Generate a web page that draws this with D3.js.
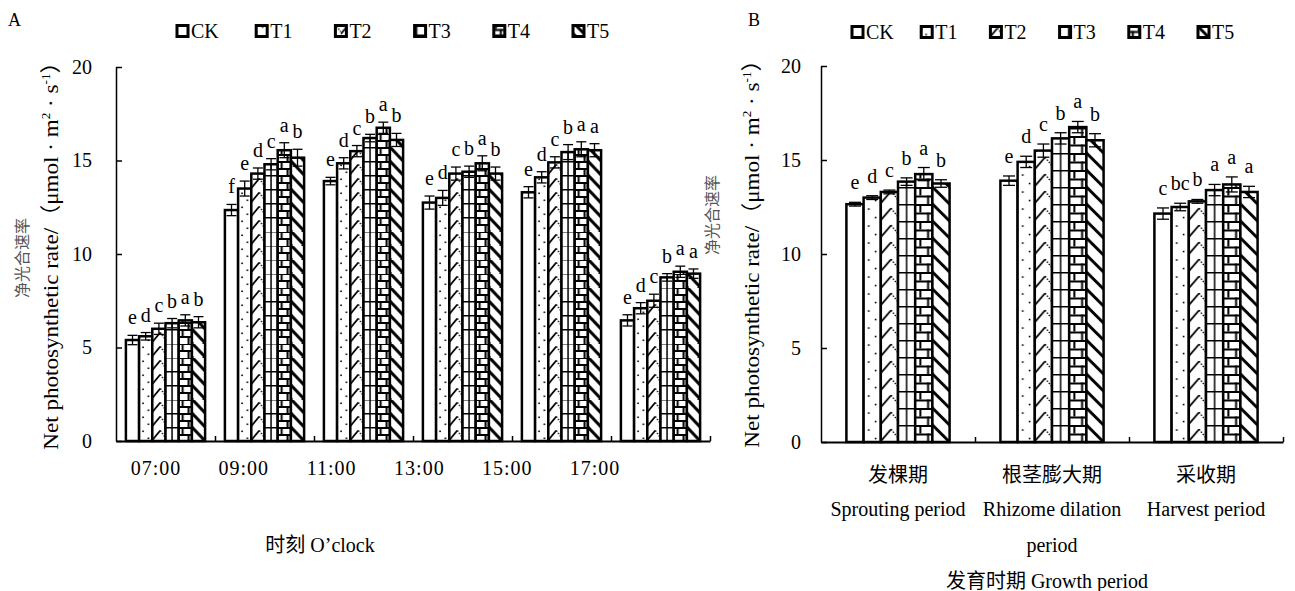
<!DOCTYPE html>
<html>
<head>
<meta charset="utf-8">
<script src="https://cdn.jsdelivr.net/npm/d3@7"></script>
<style>
  body { margin: 0; background: #fff; }
  svg { display: block; }
  text { font-family: "Times New Roman", "Liberation Serif", "Noto Sans CJK SC", serif; fill: #000; }
</style>
</head>
<body>
<svg id="chart" width="1295" height="591"></svg>
<script>
// ---------- data ----------
var series = ['CK', 'T1', 'T2', 'T3', 'T4', 'T5'];

var timesA = ['07:00', '09:00', '11:00', '13:00', '15:00', '17:00'];
var ckA = [5.4, 12.35, 13.9, 12.75, 13.3, 6.45];
var t1A = [5.6, 13.5, 14.85, 13.0, 14.1, 7.1];
var t2A = [6.0, 14.3, 15.5, 14.3, 14.9, 7.5];
var t3A = [6.3, 14.8, 16.2, 14.4, 15.45, 8.75];
var t4A = [6.45, 15.55, 16.75, 14.85, 15.6, 9.05];
var t5A = [6.35, 15.15, 16.1, 14.3, 15.55, 8.95];
var ckErrA = [0.25, 0.3, 0.2, 0.35, 0.3, 0.3];
var t1ErrA = [0.2, 0.4, 0.3, 0.4, 0.3, 0.3];
var t2ErrA = [0.3, 0.3, 0.3, 0.35, 0.3, 0.35];
var t3ErrA = [0.25, 0.3, 0.2, 0.3, 0.4, 0.2];
var t4ErrA = [0.3, 0.4, 0.3, 0.4, 0.4, 0.3];
var t5ErrA = [0.3, 0.45, 0.35, 0.35, 0.35, 0.25];
var lettersA = [
    ['e', 'd', 'c', 'b', 'a', 'b'],
    ['f', 'e', 'd', 'c', 'a', 'b'],
    ['e', 'd', 'c', 'b', 'a', 'b'],
    ['e', 'd', 'c', 'b', 'a', 'b'],
    ['e', 'd', 'c', 'b', 'a', 'a'],
    ['e', 'd', 'c', 'b', 'a', 'a']
];

var periodsCn = ['发棵期', '根茎膨大期', '采收期'];
var periodsEn = [['Sprouting period'], ['Rhizome dilation', 'period'], ['Harvest period']];
var ckB = [12.65, 13.9, 12.15];
var t1B = [13.0, 14.9, 12.5];
var t2B = [13.3, 15.5, 12.8];
var t3B = [13.85, 16.15, 13.4];
var t4B = [14.25, 16.75, 13.7];
var t5B = [13.75, 16.05, 13.3];
var ckErrB = [0.1, 0.25, 0.3];
var t1ErrB = [0.1, 0.3, 0.2];
var t2ErrB = [0.1, 0.35, 0.1];
var t3ErrB = [0.2, 0.3, 0.3];
var t4ErrB = [0.35, 0.3, 0.4];
var t5ErrB = [0.2, 0.35, 0.3];
var lettersB = [
    ['e', 'd', 'c', 'b', 'a', 'b'],
    ['e', 'd', 'c', 'b', 'a', 'b'],
    ['c', 'bc', 'b', 'a', 'a', 'a']
];

var yTicks = [0, 5, 10, 15, 20];

//----------HELPERS----------

var svg = d3.select('#chart');
var defs = svg.append('defs');

// one pattern tile per bar so the hatching lines up with the bar edges
function makePattern(id, kind, x0, y0, bw, h) {
    var p = defs.append('pattern')
        .attr('id', id)
        .attr('patternUnits', 'userSpaceOnUse')
        .attr('x', x0).attr('y', y0)
        .attr('width', bw).attr('height', h);
    p.append('rect').attr('width', bw).attr('height', h).attr('fill', '#fff');
    var g = p.append('g').attr('stroke', '#000').attr('fill', 'none');
    if (kind === 'T1') {
        p.append('rect').attr('x', bw * 0.3 - 0.8).attr('y', h * 0.25).attr('width', 1.6).attr('height', 1.6).attr('fill', '#000');
        p.append('rect').attr('x', bw * 0.7 - 0.8).attr('y', h * 0.75).attr('width', 1.6).attr('height', 1.6).attr('fill', '#000');
    }
    else if (kind === 'T2') {
        g.append('line').attr('x1', 0).attr('y1', h * 0.95).attr('x2', bw * 0.6).attr('y2', h * 0.25).attr('stroke-width', 1.8);
        g.append('line').attr('x1', bw * 0.6).attr('y1', h * 0.25).attr('x2', bw).attr('y2', h * 0.75)
            .attr('stroke-width', 1.3).attr('stroke-dasharray', '1.5,1.5');
    }
    else if (kind === 'T3') {
        g.append('line').attr('x1', bw / 2).attr('y1', 0).attr('x2', bw / 2).attr('y2', h).attr('stroke-width', 1.5);
        g.append('line').attr('x1', 0).attr('y1', 0.75).attr('x2', bw).attr('y2', 0.75).attr('stroke-width', 1.5);
    }
    else if (kind === 'T4') {
        g.append('line').attr('x1', 0).attr('y1', 1).attr('x2', bw).attr('y2', 1).attr('stroke-width', 2);
        g.append('line').attr('x1', 0).attr('y1', h / 2 + 1).attr('x2', bw).attr('y2', h / 2 + 1).attr('stroke-width', 2);
        g.append('line').attr('x1', bw * 0.3).attr('y1', 0).attr('x2', bw * 0.3).attr('y2', h / 2).attr('stroke-width', 2);
        g.append('line').attr('x1', bw * 0.75).attr('y1', h / 2).attr('x2', bw * 0.75).attr('y2', h).attr('stroke-width', 2);
    }
    else if (kind === 'T5') {
        g.attr('stroke-width', 3);
        g.append('line').attr('x1', -1).attr('y1', -1).attr('x2', bw + 1).attr('y2', h + 1);
        g.append('line').attr('x1', bw - 2).attr('y1', -2).attr('x2', bw + 2).attr('y2', 2);
        g.append('line').attr('x1', -2).attr('y1', h - 2).attr('x2', 2).attr('y2', h + 2);
    }
}

function drawPanel(o) {
    var n = o.groups.length;
    var y = d3.scaleLinear().domain([0, 20]).range([o.y0, o.y1]);
    var x0 = d3.scaleBand().domain(d3.range(n)).range([o.x0, o.x1])
        .paddingInner(o.pad).paddingOuter(o.pad / 2);
    var x1 = d3.scaleBand().domain(series).range([0, x0.bandwidth()]);
    var bw = x1.bandwidth();

    var rows = [];
    for (var g = 0; g < n; g++) {
        for (var s = 0; s < series.length; s++) {
            rows.push({g: g, s: series[s], v: o.values[s][g], e: o.errors[s][g], l: o.letters[g][s]});
        }
    }
    rows.forEach(function(d) {
        d.x = x0(d.g) + x1(d.s);
        d.id = o.name + '-' + d.s + '-' + d.g;
        makePattern(d.id, d.s, d.x, o.y0, bw, o.tile);
    });

    var root = svg.append('g');

    // bars
    root.append('g').selectAll('rect')
        .data(rows)
        .enter().append('rect')
        .attr('x', function(d) {return d.x;})
        .attr('y', function(d) {return y(d.v);})
        .attr('width', bw)
        .attr('height', function(d) {return o.y0 - y(d.v);})
        .attr('fill', function(d) {return 'url(#' + d.id + ')';})
        .attr('stroke', '#000')
        .attr('stroke-width', 2.5);

    // error bars
    var eb = root.append('g').attr('stroke', '#000').attr('stroke-width', 1.3);
    rows.forEach(function(d) {
        var cx = d.x + bw / 2;
        eb.append('line').attr('x1', cx).attr('x2', cx).attr('y1', y(d.v - d.e)).attr('y2', y(d.v + d.e));
        eb.append('line').attr('x1', cx - o.cap / 2).attr('x2', cx + o.cap / 2).attr('y1', y(d.v + d.e)).attr('y2', y(d.v + d.e));
        eb.append('line').attr('x1', cx - o.cap / 2).attr('x2', cx + o.cap / 2).attr('y1', y(d.v - d.e)).attr('y2', y(d.v - d.e));
    });

    // significance letters
    root.append('g').selectAll('text')
        .data(rows)
        .enter().append('text')
        .attr('x', function(d) {return d.x + bw / 2;})
        .attr('y', function(d) {return y(d.v + d.e) - o.letterGap;})
        .attr('text-anchor', 'middle')
        .attr('font-size', 20)
        .text(function(d) {return d.l;});

    // y axis, ticks point inwards
    var yAxis = root.append('g')
        .attr('transform', 'translate(' + o.x0 + ',0)')
        .call(d3.axisLeft(y).tickValues(yTicks).tickSizeInner(-6).tickSizeOuter(0).tickPadding(o.tickPad));
    yAxis.select('.domain').attr('stroke-width', 1.5);
    yAxis.selectAll('.tick line').attr('stroke-width', 1.5);
    yAxis.selectAll('.tick text').attr('font-size', 20).attr('font-family', null);

    // x axis with group boundary ticks pointing up
    var xb = d3.scaleLinear().domain([0, n]).range([o.x0, o.x1]);
    var xAxis = root.append('g')
        .attr('transform', 'translate(0,' + o.y0 + ')')
        .call(d3.axisBottom(xb).tickValues(d3.range(1, n + 1)).tickSizeInner(-5).tickSizeOuter(0).tickFormat(''));
    xAxis.select('.domain').attr('stroke-width', 2);
    xAxis.selectAll('.tick line').attr('stroke-width', 1.5);

    // legend
    var lx = d3.scalePoint().domain(series).range(o.legendRange);
    var lg = root.append('g').selectAll('g')
        .data(series)
        .enter().append('g')
        .attr('transform', function(d) {return 'translate(' + lx(d) + ',' + o.legendY + ')';});
    lg.each(function(d) {
        var pid = o.name + '-legend-' + d;
        makePattern(pid, d, lx(d), o.legendY - 5.5, 11, 11);
        d3.select(this).append('rect')
            .attr('x', 0).attr('y', -5.5).attr('width', 11).attr('height', 11)
            .attr('fill', 'url(#' + pid + ')')
            .attr('stroke', '#000').attr('stroke-width', 3);
    });
    lg.append('text')
        .attr('x', 14).attr('y', 7)
        .attr('font-size', 20)
        .text(function(d) {return d;});

    // y title: english line (stretched a little, like the source) plus smaller grey chinese line
    var yt = root.append('text')
        .attr('transform', 'translate(' + o.yTitleX + ',' + o.yTitleY + ') scale(1,1.1) rotate(-90)')
        .attr('text-anchor', 'middle')
        .attr('font-size', 21);
    yt.append('tspan').text('Net photosynthetic rate/（μmol · m');
    yt.append('tspan').attr('font-size', 12).attr('dy', -8).text('2');
    yt.append('tspan').attr('dy', 8).text(' · s');
    yt.append('tspan').attr('font-size', 12).attr('dy', -8).text('-1');
    yt.append('tspan').attr('dy', 8).text('）');

    root.append('text')
        .attr('transform', 'translate(' + o.cnTitleX + ',' + o.cnTitleY + ') rotate(-90)')
        .attr('text-anchor', 'middle')
        .attr('font-size', 16)
        .style('fill', '#555')
        .text('净光合速率');

    root.append('text')
        .attr('x', o.tagX).attr('y', 26)
        .attr('font-size', 18)
        .text(o.name);

    return {x0: x0, y: y};
}

//----------PANEL A----------

var a = drawPanel({
    name: 'A', groups: timesA,
    values: [ckA, t1A, t2A, t3A, t4A, t5A],
    errors: [ckErrA, t1ErrA, t2ErrA, t3ErrA, t4ErrA, t5ErrA],
    letters: lettersA,
    x0: 116, x1: 710, y0: 441, y1: 67, pad: 0.2, tile: 14, cap: 10, letterGap: 11,
    tickPad: 24, legendRange: [177, 573], legendY: 31,
    yTitleX: 58, yTitleY: 250, cnTitleX: 28, cnTitleY: 258, tagX: 8
});

var labA = d3.scalePoint().domain(timesA).range([156, 595]);
svg.append('g').selectAll('text')
    .data(timesA)
    .enter().append('text')
    .attr('x', function(d) {return labA(d);})
    .attr('y', 475)
    .attr('text-anchor', 'middle')
    .attr('font-size', 20)
    .attr('letter-spacing', 1)
    .text(function(d) {return d;});

svg.append('text')
    .attr('x', 320).attr('y', 552)
    .attr('text-anchor', 'middle')
    .attr('font-size', 20)
    .text('时刻 O’clock');

//----------PANEL B----------

var b = drawPanel({
    name: 'B', groups: periodsCn,
    values: [ckB, t1B, t2B, t3B, t4B, t5B],
    errors: [ckErrB, t1ErrB, t2ErrB, t3ErrB, t4ErrB, t5ErrB],
    letters: lettersB,
    x0: 821, x1: 1283, y0: 442, y1: 66, pad: 0.33, tile: 17, cap: 12, letterGap: 13,
    tickPad: 20, legendRange: [852, 1198], legendY: 32,
    yTitleX: 759, yTitleY: 248, cnTitleX: 718, cnTitleY: 215, tagX: 748
});

var catB = svg.append('g').selectAll('g')
    .data(d3.range(periodsCn.length))
    .enter().append('g')
    .attr('transform', function(i) {return 'translate(' + (b.x0(i) + b.x0.bandwidth() / 2) + ',0)';});
catB.append('text')
    .attr('y', 482)
    .attr('text-anchor', 'middle')
    .attr('font-size', 20)
    .text(function(i) {return periodsCn[i];});
catB.each(function(i) {
    var sel = d3.select(this);
    periodsEn[i].forEach(function(line, k) {
        sel.append('text')
            .attr('y', 516 + k * 36)
            .attr('text-anchor', 'middle')
            .attr('font-size', 20)
            .text(line);
    });
});

svg.append('text')
    .attr('x', 1047).attr('y', 588)
    .attr('text-anchor', 'middle')
    .attr('font-size', 20)
    .text('发育时期 Growth period');
</script>
</body>
</html>
